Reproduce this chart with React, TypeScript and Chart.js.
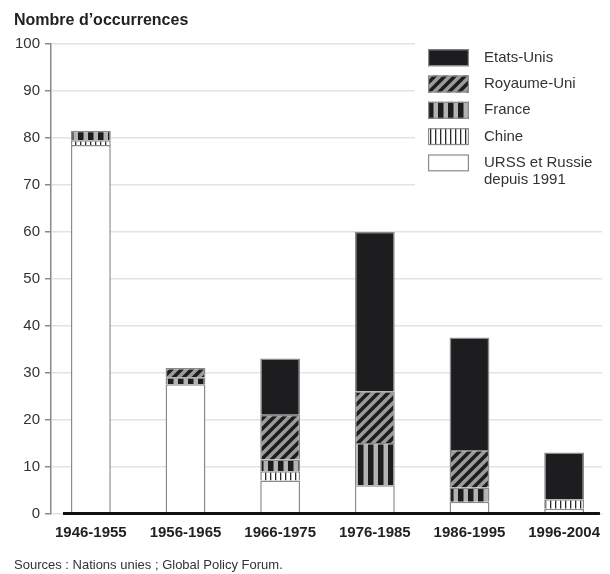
import { useEffect, useRef } from 'react';
import { Chart, registerables } from 'chart.js';

Chart.register(...registerables);

const categories = ['1946-1955', '1956-1965', '1966-1975', '1976-1985', '1986-1995', '1996-2004'];
const urssRussie = [78.5, 27.5, 7, 6, 2.5, 1];
const chine = [1, null, 2, null, null, 2];
const france = [2, 1.5, 2.5, 9, 3, null];
const royaumeUni = [null, 2, 9.5, 11, 8, null];
const etatsUnis = [null, null, 12, 34, 24, 10];
const seriesLabels = ['URSS et Russie\ndepuis 1991', 'Chine', 'France', 'Royaume-Uni', 'Etats-Unis'];
const yAxisTitle = 'Nombre d\u2019occurrences';
const sourceText = 'Sources : Nations unies ; Global Policy Forum.';

const FONT = '"Liberation Sans", Arial, Helvetica, sans-serif';
const DARK = '#1d1d1f';
const EDGE = '#8a8a8a';

function tile(w: number, h: number, draw: (c: CanvasRenderingContext2D) => void): CanvasPattern | string {
  const cv = document.createElement('canvas');
  cv.width = w;
  cv.height = h;
  const c = cv.getContext('2d');
  if (!c) return '#888';
  draw(c);
  return c.createPattern(cv, 'repeat') || '#888';
}

function makeFills() {
  const p = 10;
  const diagonal = tile(p, p, (c) => {
    c.fillStyle = DARK;
    c.fillRect(0, 0, p, p);
    c.strokeStyle = '#9b9b9b';
    c.lineWidth = 3.6;
    c.beginPath();
    c.moveTo(-2, 2); c.lineTo(2, -2);
    c.moveTo(-2, p + 2); c.lineTo(p + 2, -2);
    c.moveTo(p - 2, p + 2); c.lineTo(p + 2, p - 2);
    c.stroke();
  });
  const vertical = tile(10, 10, (c) => {
    c.fillStyle = '#b3b3b3';
    c.fillRect(0, 0, 10, 10);
    c.fillStyle = DARK;
    c.fillRect(0, 0, 5.5, 10);
  });
  const thin = tile(5, 5, (c) => {
    c.fillStyle = '#ffffff';
    c.fillRect(0, 0, 5, 5);
    c.fillStyle = '#2a2a2a';
    c.fillRect(2, 0, 1.3, 5);
  });
  return { diagonal, vertical, thin };
}

const insideLegend = {
  id: 'insideLegend',
  afterDraw(chart: any) {
    const { ctx, chartArea } = chart;
    const ds = chart.data.datasets.slice().reverse();
    ctx.save();
    ctx.fillStyle = '#ffffff';
    ctx.fillRect(407, 30, chartArea.right - 407, 162);
    ds.forEach((d: any, i: number) => {
      const cy = 49.7 + i * 26.3;
      ctx.fillStyle = d.backgroundColor;
      ctx.fillRect(420, cy - 8.5, 41, 17);
      ctx.strokeStyle = EDGE;
      ctx.lineWidth = 1.2;
      ctx.strokeRect(420.6, cy - 7.9, 39.8, 15.8);
      ctx.fillStyle = '#333';
      ctx.font = '15px ' + FONT;
      ctx.textBaseline = 'middle';
      ctx.textAlign = 'left';
      String(d.label).split('\n').forEach((line: string, j: number) => {
        ctx.fillText(line, 476, cy + j * 17);
      });
    });
    ctx.restore();
  },
};

const baseLine = {
  id: 'baseLine',
  afterDatasetsDraw(chart: any) {
    const { ctx, chartArea, scales } = chart;
    const y = scales.y.getPixelForValue(0);
    ctx.save();
    ctx.strokeStyle = '#111';
    ctx.lineWidth = 3;
    ctx.beginPath();
    ctx.moveTo(chartArea.left + 12, y);
    ctx.lineTo(chartArea.right - 8, y);
    ctx.stroke();
    ctx.restore();
  },
};

export default function App() {
  const ref = useRef<HTMLCanvasElement | null>(null);

  useEffect(() => {
    document.documentElement.style.overflow = 'hidden';
    if (!ref.current) return;
    const fills = makeFills();
    const series = [urssRussie, chine, france, royaumeUni, etatsUnis];
    const bgs = ['#ffffff', fills.thin, fills.vertical, fills.diagonal, DARK];
    Chart.defaults.font.family = FONT;

    const chart = new Chart(ref.current, {
      type: 'bar',
      data: {
        datasets: series.map((arr, k) => ({
          label: seriesLabels[k],
          data: categories.map((_, i) => ({ x: i, y: arr[i] })),
          backgroundColor: bgs[k] as any,
          borderColor: EDGE,
          borderWidth: 1.5,
          barPercentage: 0.421,
          categoryPercentage: 1,
        })),
      },
      options: {
        animation: false,
        responsive: true,
        maintainAspectRatio: false,
        layout: { padding: { left: 6, right: 0, top: 0, bottom: 0 } },
        plugins: {
          legend: { display: false },
          tooltip: { enabled: false },
          title: {
            display: true,
            text: yAxisTitle,
            align: 'start',
            color: '#222',
            font: { size: 16, weight: 'bold' },
            padding: { top: 2.5, bottom: 14.3 },
          },
          subtitle: {
            display: true,
            text: sourceText,
            position: 'bottom',
            align: 'start',
            color: '#333',
            font: { size: 13 },
            padding: { top: 6, bottom: 1 },
          },
        },
        scales: {
          x: {
            type: 'linear',
            stacked: true,
            offset: false,
            min: -0.421,
            max: 5.463,
            grid: { display: false, drawTicks: false, offset: false },
            border: { display: false },
            afterBuildTicks: (s: any) => {
              s.ticks = categories.map((_, i) => ({ value: i }));
            },
            ticks: {
              autoSkip: false,
              maxRotation: 0,
              padding: 10,
              color: '#222',
              font: { size: 15, weight: 'bold' },
              callback: (v: any) => categories[Number(v)] ?? '',
            },
          },
          y: {
            stacked: true,
            min: 0,
            max: 100,
            ticks: { stepSize: 10, padding: 5, color: '#333', font: { size: 15 } },
            grid: { color: '#e3e3e3', lineWidth: 1.5, tickColor: EDGE, tickLength: 6 },
            border: { color: EDGE, width: 1.5 },
            afterFit: (s: any) => {
              s.width = 37;
            },
          },
        },
      } as any,
      plugins: [baseLine, insideLegend],
    });
    return () => chart.destroy();
  }, []);

  return (
    <div style={{ position: 'relative', width: 602, height: 566, marginRight: -8 }}>
      <canvas ref={ref} />
    </div>
  );
}
